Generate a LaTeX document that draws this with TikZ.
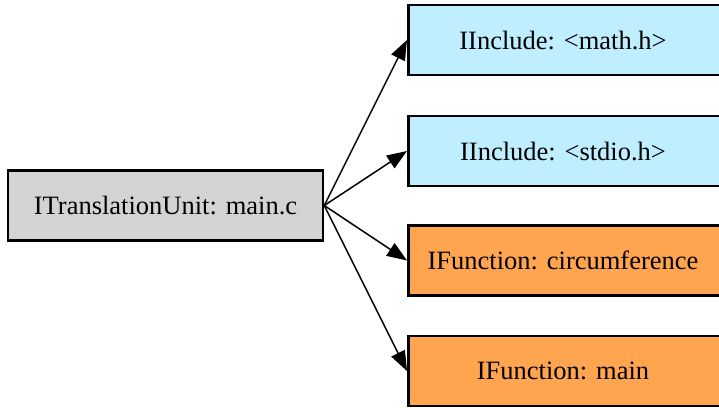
\documentclass[tikz,border=0pt]{standalone}
\usepackage{fontspec}
\setmainfont{Liberation Serif}
\usetikzlibrary{arrows.meta}
\definecolor{incfill}{HTML}{BFEFFF}
\definecolor{funfill}{HTML}{FFA54F}
\definecolor{tufill}{HTML}{D3D3D3}
\begin{document}
\begin{tikzpicture}[x=1pt,y=-1pt,
  lbl/.style={font=\fontsize{26.5}{30}\selectfont},
  box/.style={draw=black, line width=2.5pt, rectangle, minimum height=70pt,
    inner sep=0pt, lbl},
  tubox/.style={box, fill=tufill, minimum width=315pt},
  incbox/.style={box, fill=incfill, minimum width=318pt},
  funbox/.style={box, fill=funfill, minimum width=318pt},
  edge/.style={line width=1.5pt, -{Triangle[length=20pt,width=15pt]}}]
\useasboundingbox (0,0) rectangle (719,409);
\clip (0,0) rectangle (719,409);
% source node
\node[tubox] (tu) at (165.5,205.5) {ITranslationUnit: main.c};
% target boxes run past the right edge, so their labels sit on their own nodes
\node[incbox, anchor=west] (math) at (407,40) {};
\node[incbox, anchor=west] (stdio) at (407,151) {};
\node[funbox, anchor=west] (circ) at (407,260.5) {};
\node[funbox, anchor=west] (mainf) at (407,371) {};
\node[lbl] (tmath) at (563,40) {IInclude: <math.h>};
\node[lbl] (tstdio) at (563,151) {IInclude: <stdio.h>};
\node[lbl] (tcirc) at (563,260.5) {IFunction: circumference};
\node[lbl] (tmain) at (563,371) {IFunction: main};
% connectors
\draw[edge] (tu.east) -- (math.west);
\draw[edge] (tu.east) -- (stdio.west);
\draw[edge] (tu.east) -- (circ.west);
\draw[edge] (tu.east) -- (mainf.west);
\end{tikzpicture}
\end{document}
